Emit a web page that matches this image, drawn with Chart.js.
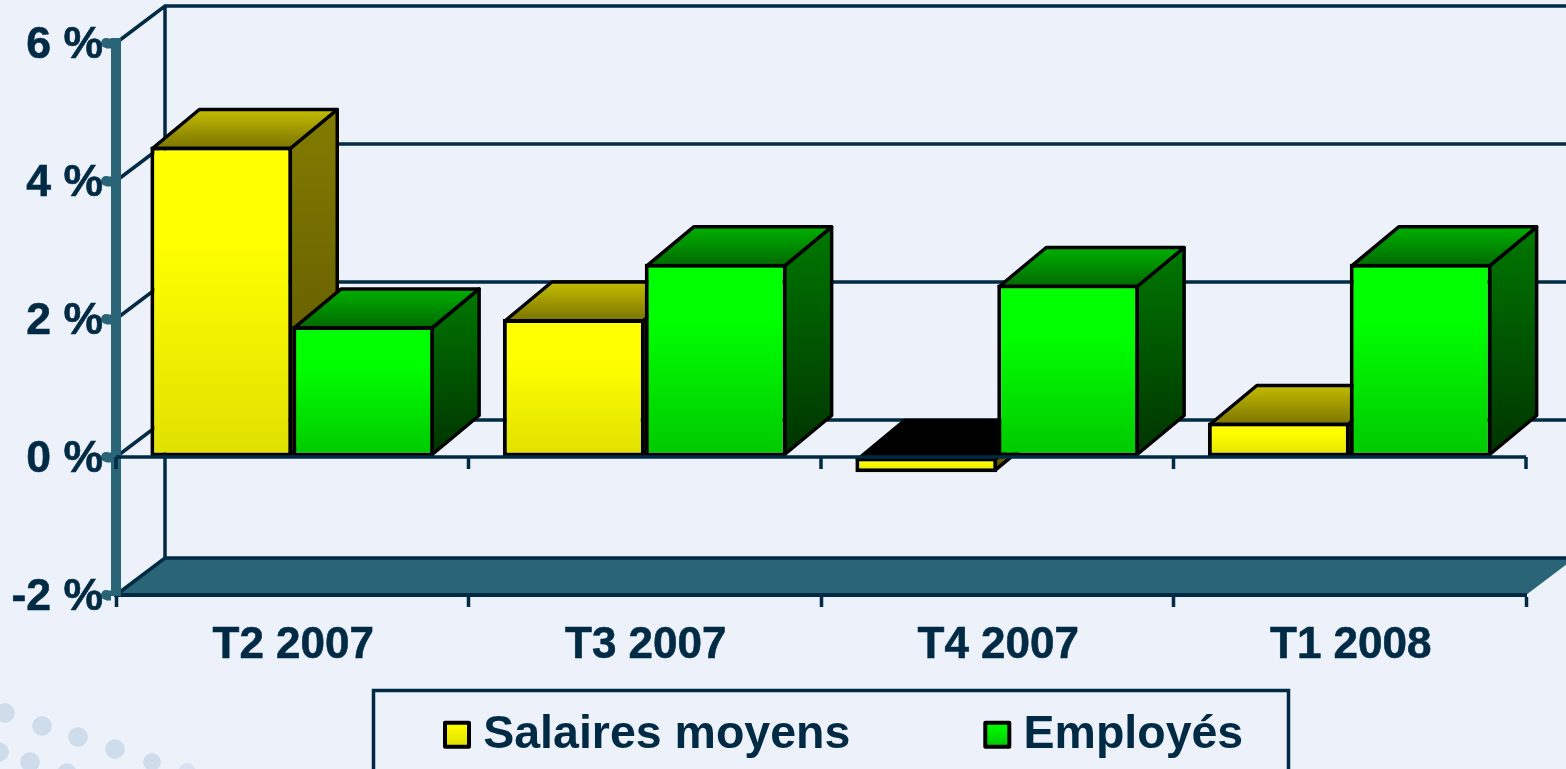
<!DOCTYPE html>
<html>
<head>
<meta charset="utf-8">
<style>
html,body{margin:0;padding:0;width:1566px;height:769px;overflow:hidden;background-color:#edf2fa;}
body{background-image:
radial-gradient(circle 10px at 5px 713px,#cfdcec 94%,transparent),
radial-gradient(circle 10px at 42px 726px,#cfdcec 94%,transparent),
radial-gradient(circle 10px at 78px 737px,#cfdcec 94%,transparent),
radial-gradient(circle 10px at 115px 749px,#cfdcec 94%,transparent),
radial-gradient(circle 9px at 152px 762px,#cfdcec 94%,transparent),
radial-gradient(circle 9px at 187px 772px,#d8e2f0 94%,transparent),
radial-gradient(circle 10px at -1px 752px,#cfdcec 94%,transparent),
radial-gradient(circle 10px at 30px 762px,#cfdcec 94%,transparent),
radial-gradient(circle 10px at 67px 773px,#cfdcec 94%,transparent);}
canvas{display:block;}
</style>
<script src="https://cdn.jsdelivr.net/npm/chart.js@4/dist/chart.umd.min.js"></script>
</head>
<body>
<canvas id="c" width="1566" height="769"></canvas>
<script>
const categories = ['T2 2007','T3 2007','T4 2007','T1 2008'];
const salairesMoyens = [4.5, 2.0, -0.22, 0.5];
const employes = [1.9, 2.8, 2.5, 2.8];

const NAVY = '#012a44', TEAL = '#2a6577', FONT = '"Liberation Sans", Arial, sans-serif';
const barDepth = {dx: 47, dy: 39}, wallDepth = {dx: 49, dy: 37};
const looks = [
  {front:['#ffff00','#e0e000'], top:['#c4bc00','#7a7400'], side:['#827c00','#5c5300']},
  {front:['#00ff00','#00c800'], top:['#00b000','#006a00'], side:['#007800','#003400']}
];

function vGrad(ctx, y0, y1, colors, hold){
  const g = ctx.createLinearGradient(0, y0, 0, y1);
  g.addColorStop(0, colors[0]);
  if (hold) g.addColorStop(hold, colors[0]);
  g.addColorStop(1, colors[1]);
  return g;
}
function frontFill(i){
  return c => {
    if (c.type !== 'data' || !c.chart.scales.y) return looks[i].front[0];
    const y = c.chart.scales.y, a = y.getPixelForValue(c.parsed.y), b = y.getPixelForValue(0);
    return vGrad(c.chart.ctx, Math.min(a,b), Math.max(a,b), looks[i].front, 0.3);
  };
}
function poly(ctx, pts, fill){
  ctx.beginPath();
  pts.forEach((p,i)=> i ? ctx.lineTo(p[0],p[1]) : ctx.moveTo(p[0],p[1]));
  ctx.closePath();
  ctx.fillStyle = fill; ctx.fill();
  ctx.strokeStyle = '#000'; ctx.lineWidth = 3.5; ctx.lineJoin = 'round'; ctx.stroke();
}
function drawFaces(chart, i){
  const ctx = chart.ctx, {dx, dy} = barDepth, look = looks[i];
  chart.getDatasetMeta(i).data.forEach(bar => {
    const l = bar.x - bar.width/2 + 2, r = bar.x + bar.width/2 - 2;
    const t = Math.min(bar.y, bar.base) + 2, b = Math.max(bar.y, bar.base) - 2;
    const negative = bar.y > bar.base;
    poly(ctx, [[r,t],[r+dx,t-dy],[r+dx,b-dy],[r,b]], vGrad(ctx, t-dy, b, look.side));
    poly(ctx, [[l,t],[r,t],[r+dx,t-dy],[l+dx,t-dy]], negative ? '#000' : vGrad(ctx, t-dy, t, look.top));
  });
}

const scene = {
  id: 'scene',
  beforeDraw(chart){
    const ctx = chart.ctx, y = chart.scales.y, a = chart.chartArea, {dx, dy} = wallDepth;
    const lg = chart.legend;
    // legend placement
    const shift = 85.6 - (lg.left || 0);
    lg.left += shift; lg.right += shift;
    lg.top = 733 - 144 - 21.5;
    ctx.save();
    ctx.strokeStyle = NAVY; ctx.lineWidth = 3.5;
    // floor
    const yb = y.getPixelForValue(-2);
    ctx.beginPath();
    ctx.moveTo(a.left, yb); ctx.lineTo(a.right, yb); ctx.lineTo(a.right+dx, yb-dy); ctx.lineTo(a.left+dx, yb-dy); ctx.closePath();
    ctx.fillStyle = TEAL; ctx.fill();
    // back wall and diagonals
    ctx.beginPath();
    y.ticks.forEach(t => {
      const p = y.getPixelForValue(t.value);
      ctx.moveTo(a.left, p); ctx.lineTo(a.left+dx, p-dy); ctx.lineTo(chart.width+20, p-dy);
    });
    ctx.moveTo(a.left+dx, y.getPixelForValue(6)-dy); ctx.lineTo(a.left+dx, yb-dy);
    ctx.stroke();
    // legend frame
    ctx.strokeRect(373.5, 690.5, 915, 120);
    // rounded stubs on the value axis
    ctx.fillStyle = TEAL;
    y.ticks.forEach(t => {
      ctx.beginPath(); ctx.arc(a.left - 10, y.getPixelForValue(t.value), 5, 0, Math.PI*2); ctx.fill();
    });
    ctx.restore();
  },
  beforeDatasetDraw(chart, args){
    if (args.index === 1) return false;
    drawFaces(chart, 0);
  },
  afterDatasetsDraw(chart){
    const ctx = chart.ctx, y = chart.scales.y, x = chart.scales.x, a = chart.chartArea;
    drawFaces(chart, 1);
    chart.getDatasetMeta(1).data.forEach(b => b.draw(ctx));
    const y0 = y.getPixelForValue(0);
    ctx.save();
    ctx.strokeStyle = NAVY; ctx.lineWidth = 3.5;
    ctx.beginPath();
    ctx.moveTo(a.left, y0); ctx.lineTo(a.right, y0);
    const w = (a.right - a.left) / categories.length;
    for (let i = 0; i <= categories.length; i++){
      const px = x.getPixelForValue(i) - w/2;
      ctx.moveTo(px, y0); ctx.lineTo(px, y0 + 12);
    }
    ctx.stroke();
    ctx.restore();
  }
};

new Chart(document.getElementById('c'), {
  type: 'bar',
  data: {
    labels: categories,
    datasets: [
      {label:'Salaires moyens', data:salairesMoyens, backgroundColor:frontFill(0), borderColor:'#000', borderWidth:4, borderSkipped:false},
      {label:'Employés', data:employes, backgroundColor:frontFill(1), borderColor:'#000', borderWidth:4, borderSkipped:false}
    ]
  },
  plugins: [scene],
  options: {
    responsive: false,
    animation: false,
    events: [],
    categoryPercentage: 0.805,
    barPercentage: 1,
    layout: {padding: {top: 43, right: 40, bottom: 0, left: 0}},
    scales: {
      x: {
        afterFit(s){ s.height = 173; },
        grid: {offset:true, drawOnChartArea:false, drawTicks:true, tickLength:12, tickColor:NAVY, tickWidth:3.5},
        border: {display:true, color:NAVY, width:4},
        ticks: {color:NAVY, padding:12, labelOffset:1, maxRotation:0, textStrokeColor:NAVY, textStrokeWidth:0.6, font:{family:FONT, weight:'bold', size:44}}
      },
      y: {
        min:-2, max:6,
        afterFit(s){ s.width = 116; },
        grid: {drawOnChartArea:false, drawTicks:true, tickLength:10, tickColor:TEAL, tickWidth:10},
        border: {display:true, color:TEAL, width:10},
        ticks: {stepSize:2, padding:3, labelOffset:3, color:NAVY, textStrokeColor:NAVY, textStrokeWidth:0.6, callback:v => v + ' %', font:{family:FONT, weight:'bold', size:44.5}}
      }
    },
    plugins: {
      tooltip: {enabled:false},
      title: {display:false},
      legend: {
        display: true,
        position: 'bottom',
        maxHeight: 1,
        labels: {
          color: NAVY,
          font: {family:FONT, weight:'bold', size:46.5},
          usePointStyle: true,
          boxWidth: 6,
          boxHeight: 24,
          padding: 144,
          generateLabels(chart){
            return chart.data.datasets.map((d,i)=>({
              text: d.label,
              fontColor: NAVY,
              fillStyle: vGrad(chart.ctx, 718, 746, looks[i].front, 0.2),
              strokeStyle: '#000',
              lineWidth: 4,
              lineJoin: 'round',
              pointStyle: 'rect',
              hidden: false,
              datasetIndex: i
            }));
          }
        }
      }
    }
  }
});
</script>
</body>
</html>
